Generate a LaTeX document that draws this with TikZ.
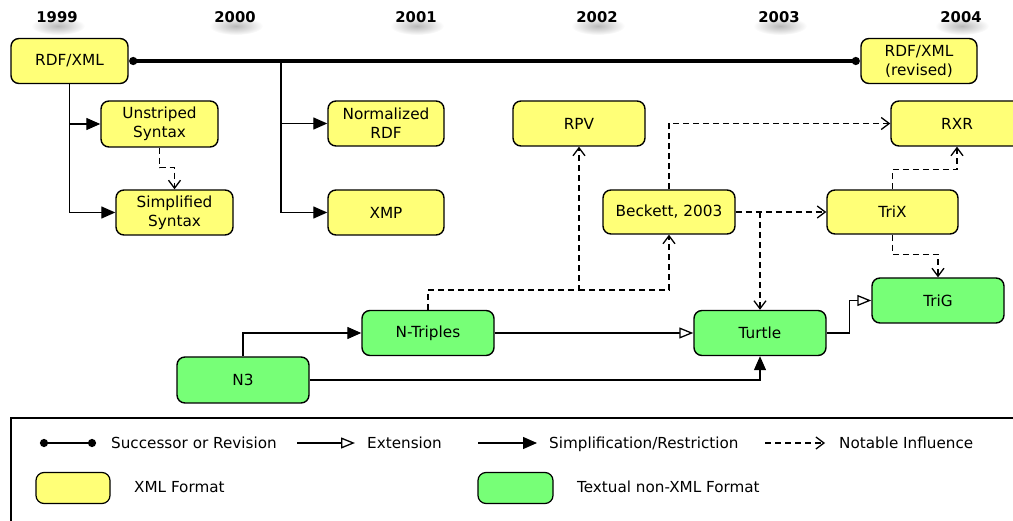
\documentclass[tikz,border=0pt]{standalone}
\usepackage{fontspec}
\setmainfont{DejaVu Sans}
\usetikzlibrary{arrows.meta,calc}
\definecolor{xmlyellow}{RGB}{255,255,119}
\definecolor{txtgreen}{RGB}{119,255,119}
\begin{document}
\begin{tikzpicture}[x=1pt,y=-1pt,
  fmt/.style={draw=black, line width=1.4pt, rounded corners=8pt, align=center,
    inner sep=0pt, minimum height=45pt, font=\fontsize{15.3pt}{19pt}\selectfont},
  xml/.style={fmt, fill=xmlyellow},
  txt/.style={fmt, fill=txtgreen},
  conn/.style={line width=1.3pt},
  simp/.style={conn, -{Triangle[length=14pt,width=12pt]}},
  ext/.style={conn, -{Triangle[open,length=14pt,width=11pt,fill=white]}},
  infl/.style={conn, dash pattern=on 6pt off 4pt, -{Straight Barb[length=8pt,width=12pt]}},
  succ/.style={line width=3.2pt, {Circle[length=8pt]}-{Circle[length=8pt]}},
  year/.style={inner sep=0pt, font=\fontsize{14.8pt}{17pt}\selectfont\bfseries},
  legtext/.style={inner sep=0pt, anchor=west, text height=11pt, text depth=3.5pt,
    font=\fontsize{15.2pt}{18pt}\selectfont},
]
\useasboundingbox (0,0) rectangle (1013,521);
\begin{scope}
\clip (0,0) rectangle (1013,521);

% year labels with soft shadow
\foreach \yy/\xx in {1999/57,2000/235,2001/416,2002/597,2003/779,2004/961}{
  \shade[inner color=black!28, outer color=white] (\xx+1,26) ellipse [x radius=27pt, y radius=9pt];
  \node[year] (y\yy) at (\xx,17) {\yy};
}

% XML nodes
\node[xml, minimum width=117pt] (rdfxml) at (69.5,61) {RDF/XML};
\node[xml, minimum width=116pt] (rdfrev) at (919,61) {RDF/XML\\(revised)};
\node[xml, minimum width=117pt, minimum height=46pt] (unstr) at (159.5,124) {Unstriped\\Syntax};
\node[xml, minimum width=117pt] (simpl) at (174.5,212.5) {Simplified\\Syntax};
\node[xml, minimum width=116pt] (norm) at (386,123.5) {Normalized\\RDF};
\node[xml, minimum width=116pt] (xmp) at (386,212.5) {XMP};
\node[xml, minimum width=132pt] (rpv) at (579,123.5) {RPV};
\node[xml, minimum width=132pt, minimum height=44pt] (beck) at (669,212) {Beckett, 2003};
\node[xml, minimum width=132pt] (rxr) at (957,123.5) {RXR};
\node[xml, minimum width=131pt, minimum height=44pt] (trix) at (892.5,212) {TriX};

% textual nodes
\node[txt, minimum width=132pt] (ntrip) at (428,333) {N-Triples};
\node[txt, minimum width=132pt, minimum height=46pt] (nthree) at (243,380) {N3};
\node[txt, minimum width=132pt] (turtle) at (760,333) {Turtle};
\node[txt, minimum width=132pt] (trig) at (938,300.5) {TriG};

% timeline
\draw[succ] (rdfxml.east) ++(0.5,0) coordinate (tl0) -- ($(rdfrev.west)+(-0.5,0)$) coordinate (tl1);
\coordinate (br2) at (281,61);

% RDF/XML branches
\draw[simp] (rdfxml.south) |- (simpl.west);
\draw[simp] (rdfxml.south |- unstr.west) -- (unstr.west);
\draw[infl] (unstr.south) -- ++(0,20) -| (simpl.north);

% 2000 branches
\draw[simp] (br2) |- (xmp.west);
\draw[simp] (br2 |- norm.west) -- (norm.west);

% influences
\coordinate (j1) at (rpv.south |- 0,290);
\draw[infl] (ntrip.north) |- (j1) -- (rpv.south);
\draw[infl] (j1) -| (beck.south);
\draw[infl] (beck.north) |- (rxr.west);
\draw[infl] (beck.east) -- (trix.west);
\draw[infl] (beck.east -| turtle.north) -- (turtle.north);
\draw[infl] (trix.north) |- ($(rxr.south)+(0,23)$) -- (rxr.south);
\draw[infl] (trix.south) |- ($(trig.north)+(0,-23)$) -- (trig.north);

% textual relations
\draw[simp] (nthree.north) |- (ntrip.west);
\draw[simp] (nthree.east) -| (turtle.south);
\draw[ext] (ntrip.east) -- (turtle.west);
\draw[ext] (turtle.east) -- ++(23,0) |- (trig.west);

% legend
\draw[line width=1.4pt] (11,418) rectangle (1040,560);
\coordinate (l1a) at (40,443); \coordinate (l1b) at (96,443);
\draw[line width=2.6pt, {Circle[length=8pt]}-{Circle[length=8pt]}] (l1a) -- (l1b);
\node[legtext] (l1t) at (111,445) {Successor or Revision};
\coordinate (l2a) at (297,443); \coordinate (l2b) at (355,443);
\draw[ext] (l2a) -- (l2b);
\node[legtext] (l2t) at (367,445) {Extension};
\coordinate (l3a) at (478,443); \coordinate (l3b) at (537,443);
\draw[simp] (l3a) -- (l3b);
\node[legtext] (l3t) at (549,445) {Simplification/Restriction};
\coordinate (l4a) at (765,443); \coordinate (l4b) at (825,443);
\draw[infl] (l4a) -- (l4b);
\node[legtext] (l4t) at (839,445) {Notable Influence};
\node[xml, minimum width=74pt, minimum height=31pt, line width=1.2pt] (sw1) at (73,488) {};
\node[legtext] (sw1t) at (134,489) {XML Format};
\node[txt, minimum width=75pt, minimum height=31pt, line width=1.2pt] (sw2) at (515.5,488) {};
\node[legtext] (sw2t) at (577,489) {Textual non-XML Format};
\end{scope}
\end{tikzpicture}
\end{document}
